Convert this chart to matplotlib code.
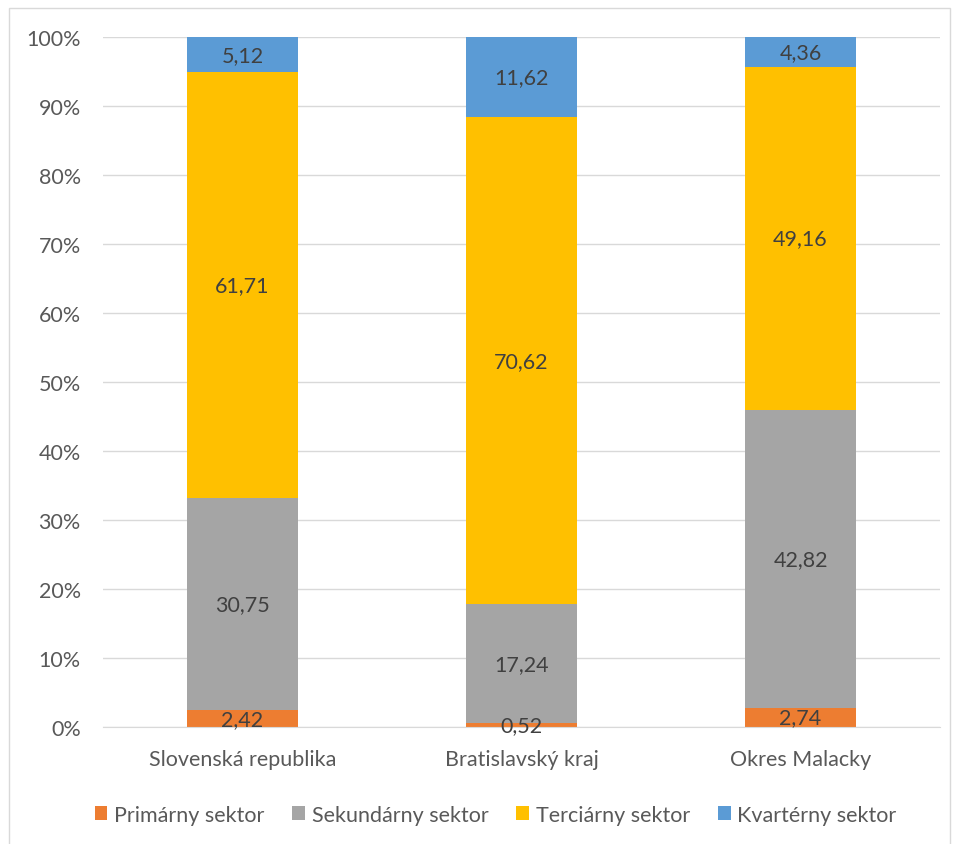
import matplotlib.pyplot as plt
import matplotlib.patches as mpatches
import numpy as np

plt.rcParams['font.family'] = ['Lato', 'DejaVu Sans']

regions = ['Slovenská republika', 'Bratislavský kraj', 'Okres Malacky']
sectors = ['Primárny sektor', 'Sekundárny sektor', 'Terciárny sektor', 'Kvartérny sektor']
primary = [2.42, 0.52, 2.74]
secondary = [30.75, 17.24, 42.82]
tertiary = [61.71, 70.62, 49.16]
quaternary = [5.12, 11.62, 4.36]
colors = ['#ED7D31', '#A5A5A5', '#FFC000', '#5B9BD5']

series = [primary, secondary, tertiary, quaternary]
values = np.array(series, dtype=float)
shares = values / values.sum(axis=0)  # 100% stacked like excel

fig = plt.figure(figsize=(9.57, 8.45), dpi=100)
ax = fig.add_axes([103 / 957, 117 / 845, 837 / 957, 690 / 845])

# outer chart border
fig.patches.append(mpatches.Rectangle((9 / 957, -0.01), 941 / 957, 836 / 845 + 0.01,
                                      transform=fig.transFigure, fill=False,
                                      edgecolor='#D9D9D9', linewidth=1))

fs = 15.5
x = np.arange(len(regions))
bottom = np.zeros(len(regions))
for i, s in enumerate(shares):
    ax.bar(x, s, 0.4, bottom=bottom, color=colors[i], label=sectors[i], zorder=2)
    for j in range(len(regions)):
        txt = f'{values[i][j]:.2f}'.replace('.', ',')
        ax.text(x[j], bottom[j] + s[j] / 2, txt, ha='center', va='center',
                fontsize=fs, color='#404040', zorder=3)
    bottom += s

ax.set_xlim(-0.5, 2.5)
ax.set_ylim(0, 1)
ax.set_yticks(np.arange(0, 1.01, 0.1))
ax.set_yticklabels([f'{int(round(t * 100))}%' for t in np.arange(0, 1.01, 0.1)])
ax.set_xticks(x)
ax.set_xticklabels(regions)
ax.yaxis.grid(True, color='#D9D9D9', linewidth=1, zorder=0)
ax.set_axisbelow(True)
for side in ['top', 'right', 'left']:
    ax.spines[side].set_visible(False)
ax.spines['bottom'].set_color('#D9D9D9')
ax.tick_params(axis='both', length=0, labelsize=fs, colors='#595959')
ax.tick_params(axis='y', pad=16)
ax.tick_params(axis='x', pad=16)

ax.legend(loc='center', bbox_to_anchor=(0.469, -0.127), ncol=4, frameon=False,
          fontsize=fs, handlelength=0.6, handleheight=0.6, handletextpad=0.3,
          columnspacing=1.3, labelcolor='#595959')

fig.savefig('out.png', dpi=100)
